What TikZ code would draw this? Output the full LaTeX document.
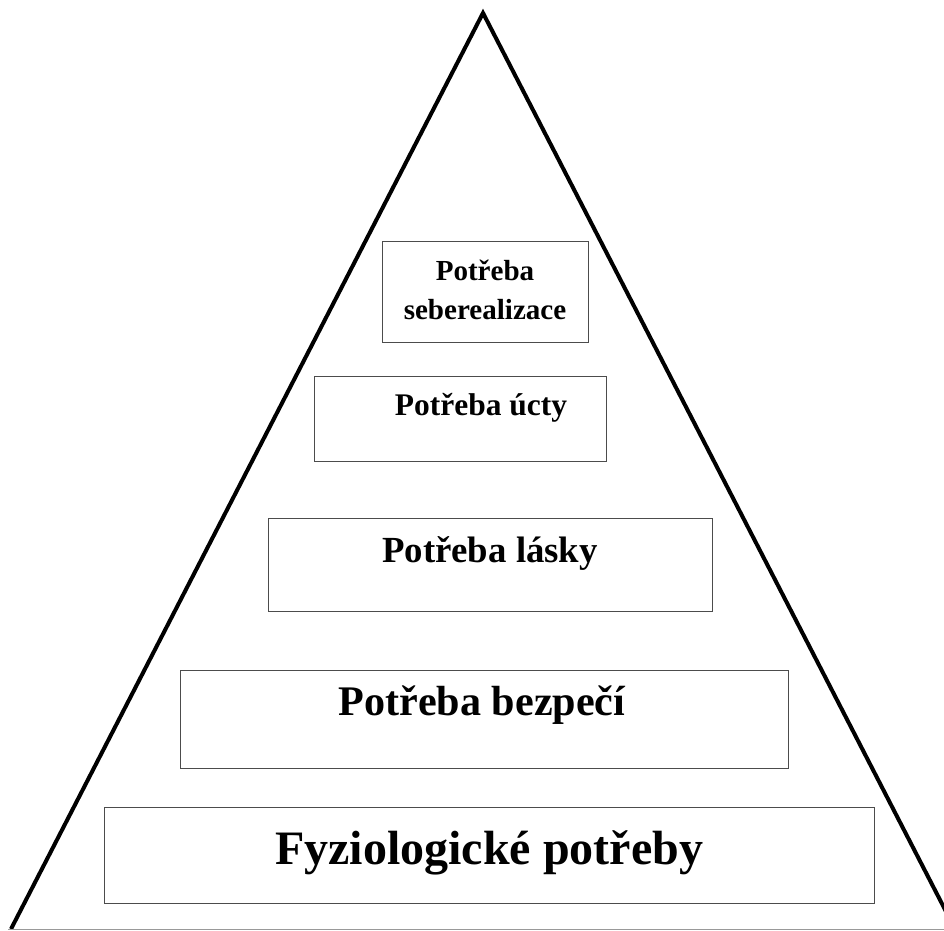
\documentclass[tikz,border=0pt]{standalone}
\usepackage{fontspec}
\setmainfont{Liberation Serif}
\usepackage{tikz}
\tikzstyle{level}=[
    draw=black!70,
    line width=0.75pt
]
\tikzstyle{lbl}=[
    anchor=base,
    inner sep=0pt,
    font=\bfseries
]

\begin{document}
\begin{tikzpicture}[x=0.75pt,y=-0.75pt]
        \useasboundingbox (0,0) rectangle (944,930);
        \clip (0,0) rectangle (944,930);

        % pyramid
        \coordinate (top) at (483,13);
        \coordinate (bl) at (11,929);
        \coordinate (br) at (955,929);
        \draw[line width=3pt, line join=miter] (bl) -- (top) -- (br);
        \draw[black!40, line width=0.75pt] (8,929) -- (944,929);

        % levels
        \draw[level] (104,807) rectangle (874,903);
        \draw[level] (180,670) rectangle (788,768);
        \draw[level] (268,518) rectangle (712,611);
        \draw[level] (314,376) rectangle (606,461);
        \draw[level] (382,242) rectangle (588,342);

        \node[lbl, font=\bfseries\fontsize{36}{40}\selectfont] (fyzio) at (489,864) {Fyziologické potřeby};
        \node[lbl, font=\bfseries\fontsize{31.6}{36}\selectfont] (bezpeci) at (482,715) {Potřeba bezpečí};
        \node[lbl, font=\bfseries\fontsize{27.6}{32}\selectfont] (laska) at (490,562) {Potřeba lásky};
        \node[lbl, font=\bfseries\fontsize{23.6}{28}\selectfont] (ucta) at (481,415) {Potřeba úcty};
        \node[lbl, font=\bfseries\fontsize{21.8}{26}\selectfont] (sebe1) at (485,280) {Potřeba};
        \node[lbl, font=\bfseries\fontsize{21.8}{26}\selectfont] (sebe2) at (485,319) {seberealizace};

    \end{tikzpicture}
\end{document}
